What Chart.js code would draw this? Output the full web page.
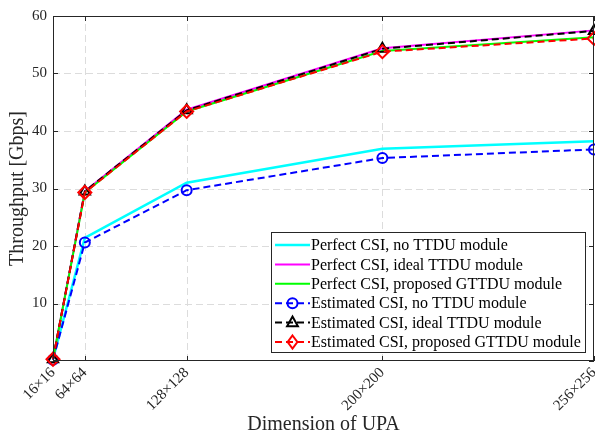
<!DOCTYPE html>
<html>
<head>
<meta charset="utf-8">
<script src="https://cdn.jsdelivr.net/npm/chart.js@4/dist/chart.umd.min.js"></script>
<style>
  html, body { margin: 0; padding: 0; background: #fff; }
  #wrap { width: 595px; height: 436px; position: relative; }
</style>
</head>
<body>
<div id="wrap"><canvas id="chart" width="595" height="436"></canvas></div>
<script>
// number of antennas (N x N) and the tick labels
var antennas = [256, 4096, 16384, 40000, 65536];
var xTickLabels = ["16×16", "64×64", "128×128", "200×200", "256×256"];
var yTicks = [0, 10, 20, 30, 40, 50, 60];

// throughput [Gbps]
var perfectNoTtdu = [0.3, 21.4, 31.0, 36.9, 38.2];
var perfectIdeal = [0.3, 29.5, 43.7, 54.4, 57.5];
var perfectGttdu = [0.3, 29.3, 43.4, 53.9, 56.3];
var estNoTtdu = [0.2, 20.6, 29.7, 35.3, 36.8];
var estIdeal = [0.3, 29.5, 43.6, 54.3, 57.4];
var estGttdu = [0.3, 29.3, 43.4, 53.8, 56.1];

var legendLabels = [
  "Perfect CSI, no TTDU module",
  "Perfect CSI, ideal TTDU module",
  "Perfect CSI, proposed GTTDU module",
  "Estimated CSI, no TTDU module",
  "Estimated CSI, ideal TTDU module",
  "Estimated CSI, proposed GTTDU module"
];

var FONT = '"Liberation Serif", "Times New Roman", serif';

function pts(arr) {
  var out = [];
  for (var i = 0; i < arr.length; i++) out.push({ x: antennas[i], y: arr[i] });
  return out;
}

function ds(label, data, color, width, dash, point, radius, order) {
  return {
    label: label,
    data: pts(data),
    borderColor: color,
    borderWidth: width,
    borderDash: dash,
    pointStyle: point || "circle",
    pointRadius: point ? radius : 0,
    pointHoverRadius: point ? radius : 0,
    pointBorderColor: color,
    pointBorderWidth: 2,
    pointBackgroundColor: "rgba(0,0,0,0)",
    tension: 0,
    fill: false,
    clip: false,
    order: order
  };
}

// drawn marker for the legend
function drawMarker(ctx, style, x, y, r) {
  ctx.beginPath();
  if (style === "circle") {
    ctx.arc(x, y, r, 0, Math.PI * 2);
  } else if (style === "triangle") {
    ctx.moveTo(x, y - r);
    ctx.lineTo(x + r * 0.9, y + r * 0.6);
    ctx.lineTo(x - r * 0.9, y + r * 0.6);
    ctx.closePath();
  } else if (style === "rectRot") {
    ctx.moveTo(x, y - r);
    ctx.lineTo(x + r * 0.75, y);
    ctx.lineTo(x, y + r);
    ctx.lineTo(x - r * 0.75, y);
    ctx.closePath();
  }
  ctx.stroke();
}

var framePlugin = {
  id: "frame",
  beforeDatasetsDraw: function (chart) {
    // dashed grid
    var ctx = chart.ctx;
    var a = chart.chartArea;
    var xs = chart.scales.x, ys = chart.scales.y;
    ctx.save();
    ctx.strokeStyle = "#dcdcdc";
    ctx.lineWidth = 1;
    ctx.setLineDash([7, 4]);
    ctx.beginPath();
    for (var i = 1; i < antennas.length - 1; i++) {
      var px = Math.round(xs.getPixelForValue(antennas[i])) + 0.5;
      ctx.moveTo(px, a.bottom); ctx.lineTo(px, a.top);
    }
    for (var j = 1; j < yTicks.length - 1; j++) {
      var py = Math.round(ys.getPixelForValue(yTicks[j])) + 0.5;
      ctx.moveTo(a.left, py); ctx.lineTo(a.right, py);
    }
    ctx.stroke();
    ctx.restore();
  },
  afterDraw: function (chart) {
    var ctx = chart.ctx;
    var a = chart.chartArea;
    var xs = chart.scales.x, ys = chart.scales.y;
    ctx.save();
    ctx.strokeStyle = "#262626";
    ctx.lineWidth = 1;
    ctx.setLineDash([]);
    // box
    ctx.strokeRect(a.left + 0.5, a.top + 0.5, a.right - a.left - 1, a.bottom - a.top - 1);
    // inward ticks
    ctx.beginPath();
    for (var i = 0; i < antennas.length; i++) {
      var px = Math.round(xs.getPixelForValue(antennas[i])) + 0.5;
      ctx.moveTo(px, a.bottom); ctx.lineTo(px, a.bottom - 5);
      ctx.moveTo(px, a.top); ctx.lineTo(px, a.top + 5);
    }
    for (var j = 0; j < yTicks.length; j++) {
      var py = Math.round(ys.getPixelForValue(yTicks[j])) + 0.5;
      ctx.moveTo(a.left, py); ctx.lineTo(a.left + 5, py);
      ctx.moveTo(a.right, py); ctx.lineTo(a.right - 5, py);
    }
    ctx.stroke();

    // axis titles
    ctx.fillStyle = "#262626";
    ctx.font = "20px " + FONT;
    ctx.textAlign = "center";
    ctx.textBaseline = "middle";
    ctx.fillText("Dimension of UPA", (a.left + a.right) / 2, 425);
    ctx.save();
    ctx.translate(18, (a.top + a.bottom) / 2);
    ctx.rotate(-Math.PI / 2);
    ctx.fillText("Throughput [Gbps]", 0, 0);
    ctx.restore();

    // legend
    var lx = 271, ly = 232, lw = 314, lh = 120;
    ctx.fillStyle = "#fff";
    ctx.fillRect(lx, ly, lw, lh);
    ctx.strokeStyle = "#262626";
    ctx.strokeRect(lx + 0.5, ly + 0.5, lw, lh);
    var sets = chart.data.datasets;
    ctx.font = "16px " + FONT;
    ctx.textAlign = "left";
    ctx.textBaseline = "middle";
    for (var k = 0; k < sets.length; k++) {
      var d = sets[k];
      var y = ly + 13 + k * 19.4;
      ctx.strokeStyle = d.borderColor;
      ctx.lineWidth = d.borderWidth;
      ctx.setLineDash(d.borderDash || []);
      ctx.beginPath();
      ctx.moveTo(lx + 4, y);
      ctx.lineTo(lx + 39, y);
      ctx.stroke();
      ctx.setLineDash([]);
      if (d.pointRadius > 0) {
        ctx.lineWidth = 2;
        drawMarker(ctx, d.pointStyle, lx + 21.5, y, d.pointRadius);
      }
      ctx.fillStyle = "#000";
      ctx.fillText(legendLabels[k], lx + 40, y + 1);
    }
    ctx.restore();
  }
};

new Chart(document.getElementById("chart"), {
  type: "line",
  data: {
    datasets: [
      ds(legendLabels[0], perfectNoTtdu, "#00ffff", 2.5, [], null, 0, 6),
      ds(legendLabels[1], perfectIdeal, "#ff00ff", 2, [], null, 0, 5),
      ds(legendLabels[2], perfectGttdu, "#00ff00", 2, [], null, 0, 4),
      ds(legendLabels[3], estNoTtdu, "#0000ff", 2, [7, 4], "circle", 5, 3),
      ds(legendLabels[4], estIdeal, "#000000", 2, [7, 4], "triangle", 6, 2),
      ds(legendLabels[5], estGttdu, "#ff0000", 2, [7, 4], "rectRot", 6.5, 1)
    ]
  },
  options: {
    responsive: false,
    animation: false,
    events: [],
    layout: { autoPadding: false, padding: { top: 16, right: 1, left: 0, bottom: 0 } },
    plugins: { legend: { display: false }, tooltip: { enabled: false } },
    scales: {
      x: {
        type: "linear",
        min: antennas[0],
        max: antennas[antennas.length - 1],
        afterBuildTicks: function (scale) {
          scale.ticks = antennas.map(function (v) { return { value: v }; });
        },
        afterFit: function (scale) {
          scale.height = 75;
          scale.paddingLeft = 0;
          scale.paddingRight = 0;
        },
        grid: { display: false, drawTicks: false },
        border: { display: false },
        ticks: {
          autoSkip: false,
          maxRotation: 45,
          minRotation: 45,
          padding: 3,
          color: "#262626",
          font: { family: FONT, size: 15 },
          callback: function (v) {
            var i = antennas.indexOf(v);
            return i >= 0 ? xTickLabels[i] : "";
          }
        }
      },
      y: {
        min: 0,
        max: 60,
        afterBuildTicks: function (scale) {
          scale.ticks = yTicks.map(function (v) { return { value: v }; });
        },
        afterFit: function (scale) {
          scale.width = 53;
          scale.paddingTop = 0;
          scale.paddingBottom = 0;
        },
        grid: { display: false, drawTicks: false },
        border: { display: false },
        ticks: {
          padding: 6,
          color: "#262626",
          font: { family: FONT, size: 15 },
          callback: function (v) { return v === 0 ? "" : String(v); }
        }
      }
    }
  },
  plugins: [framePlugin]
});
</script>
</body>
</html>
